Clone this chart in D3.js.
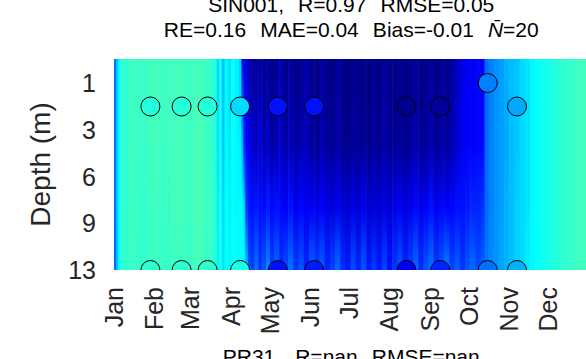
<!DOCTYPE html>
<html>
<head>
<meta charset="utf-8">
<script src="https://cdn.jsdelivr.net/npm/d3@7"></script>
<style>
  html, body { margin: 0; padding: 0; background: #fff; }
  svg { display: block; font-family: "Liberation Sans", Arial, sans-serif; }
</style>
</head>
<body>
<svg id="chart" width="586" height="359"></svg>
<script>
// ---------------- DATA ----------------
const titleLine1 = "SIN001,  R=0.97  RMSE=0.05";
const titleLine2a = "RE=0.16  MAE=0.04  Bias=-0.01  ";
const titleLine2b = "=20";
const nextTitle = "PR31,  R=nan  RMSE=nan";
const yLabel = "Depth (m)";

const monthLabels = ["Jan","Feb","Mar","Apr","May","Jun","Jul","Aug","Sep","Oct","Nov","Dec"];
const monthDays   = [1, 32, 60, 91, 121, 152, 182, 213, 244, 274, 305, 335];
const depthTicks  = [1, 3, 6, 9, 13];

// model field: columns starting at these days, values at 4 depth nodes
const fieldDepths = [0, 4, 8, 13];
const colDays = [1,2.5,4,5.5,12,20,27,35,45,55,62,70,75,78,80,82,84,86,89,91,94,97,99,100.5,102,104,106,109,112,115,118,121,124,128,131,135,139,143,147,151,155,159,163,167,171,175,179,183,187,191,195,199,203,207,211,215,219,223,227,231,235,239,243,247,251,255,259,263,267,271,275,279,283,286,289,293,297,301,305,309,313,317,321,325,329,334,339,345,351,358];
const val0  = [.24,.31,.37,.42,.435,.43,.44,.435,.44,.435,.44,.43,.42,.40,.34,.39,.31,.37,.34,.38,.36,.33,.13,.10,.08,.05,.03,.02,.04,.01,.03,.0,.02,.05,.01,.03,.0,.02,.04,.01,.0,.03,.01,.0,.03,.01,.0,.02,.0,.01,.0,.02,.0,.03,.01,.0,.02,.0,.01,.03,.0,.01,.03,.0,.02,.01,.03,.06,.10,.12,.11,.13,.12,.23,.25,.27,.28,.30,.31,.32,.34,.35,.37,.38,.39,.40,.41,.42,.43,.44];
const val4  = [.24,.31,.37,.42,.435,.43,.44,.435,.44,.435,.445,.435,.425,.40,.35,.39,.32,.37,.35,.38,.37,.36,.30,.16,.13,.11,.08,.06,.09,.05,.07,.04,.05,.08,.04,.06,.03,.05,.06,.03,.02,.05,.03,.02,.04,.02,.01,.03,.02,.03,.01,.03,.02,.04,.02,.02,.03,.01,.03,.05,.02,.03,.05,.02,.04,.03,.05,.08,.11,.12,.12,.13,.13,.23,.25,.27,.28,.29,.31,.32,.34,.35,.37,.38,.39,.40,.41,.42,.43,.44];
const val8  = [.24,.31,.37,.42,.435,.425,.435,.43,.44,.435,.445,.435,.43,.41,.36,.40,.34,.38,.36,.38,.37,.37,.37,.33,.18,.15,.14,.15,.14,.13,.15,.13,.14,.13,.12,.14,.11,.13,.11,.12,.10,.12,.10,.09,.11,.09,.08,.10,.08,.11,.08,.09,.08,.10,.08,.10,.12,.09,.11,.13,.10,.12,.14,.11,.13,.12,.13,.14,.14,.15,.16,.16,.17,.23,.25,.27,.28,.30,.31,.33,.34,.35,.37,.38,.39,.40,.41,.42,.43,.44];
const val13 = [.23,.30,.37,.42,.43,.425,.435,.43,.435,.43,.44,.43,.425,.41,.37,.40,.35,.38,.37,.39,.38,.38,.38,.37,.32,.21,.19,.24,.18,.21,.26,.19,.23,.17,.20,.24,.18,.21,.16,.22,.19,.22,.16,.19,.23,.17,.15,.20,.16,.21,.15,.18,.15,.19,.14,.18,.21,.16,.19,.23,.17,.21,.24,.18,.21,.25,.19,.22,.18,.21,.23,.20,.22,.24,.26,.27,.29,.30,.31,.33,.34,.36,.37,.38,.39,.40,.41,.42,.43,.44];

// observations (circles)
const obsDays   = [29,53,73,98,127,155,226,252,311,288.5, 29,53,73,98,127,155,226,252,288.5,311];
const obsDepths = [2,2,2,2,2,2,2,2,2,1, 13,13,13,13,13,13,13,13,13,13];
const obsValues = [.41,.41,.41,.34,.14,.14,.015,.03,.29,.25, .42,.42,.42,.40,.14,.15,.11,.16,.235,.30];

// ---------------- DRAWING ----------------
const svg = d3.select("#chart");
const pL = 114, pT = 59, pB = 270, pR = 588.5;

const x = d3.scaleLinear().domain([1, 366]).range([pL, pR]);
const y = d3.scaleLinear().domain([0, 1, 3, 6, 9, 13]).range([pT, 83, 130, 177, 223, pB]);

function jet(t) {
  const c = v => Math.max(0, Math.min(1, v));
  const r = c(1.5 - Math.abs(4 * t - 3));
  const g = c(1.5 - Math.abs(4 * t - 2));
  const b = c(1.5 - Math.abs(4 * t - 1));
  return d3.rgb(255 * r, 255 * g, 255 * b).formatHex();
}
const color = d3.scaleSequential(jet).domain([0, 1]);

const defs = svg.append("defs");
defs.append("clipPath").attr("id", "plotClip")
  .append("rect").attr("x", pL).attr("y", pT)
  .attr("width", pR - pL).attr("height", pB - pT);

const cols = colDays.map((d, i) => ({
  d0: d,
  d1: i < colDays.length - 1 ? colDays[i + 1] : 366,
  v: [val0[i], val4[i], val8[i], val13[i]]
}));

cols.forEach((c, i) => {
  const g = defs.append("linearGradient").attr("id", "g" + i)
    .attr("x1", 0).attr("y1", 0).attr("x2", 0).attr("y2", 1);
  fieldDepths.forEach((dep, k) => {
    g.append("stop")
      .attr("offset", (y(dep) - pT) / (pB - pT))
      .attr("stop-color", color(c.v[k]));
  });
});

const plot = svg.append("g").attr("clip-path", "url(#plotClip)");
plot.selectAll("rect.cell").data(cols).join("rect")
  .attr("class", "cell")
  .attr("x", c => x(c.d0))
  .attr("width", c => x(c.d1) - x(c.d0) + 0.6)
  .attr("y", pT).attr("height", pB - pT)
  .attr("fill", (c, i) => `url(#g${i})`);

const obs = obsDays.map((d, i) => ({ day: d, depth: obsDepths[i], v: obsValues[i] }));
plot.selectAll("circle.obs").data(obs).join("circle")
  .attr("class", "obs")
  .attr("cx", o => x(o.day))
  .attr("cy", o => y(o.depth))
  .attr("r", 9.5)
  .attr("fill", o => color(o.v))
  .attr("stroke", "#000")
  .attr("stroke-width", 1);

// Y ticks
svg.append("g").selectAll("text").data(depthTicks).join("text")
  .attr("x", 96).attr("y", d => y(d)).attr("dy", "0.35em")
  .attr("text-anchor", "end")
  .attr("font-size", 25).attr("fill", "#262626")
  .text(d => d);

// X ticks (rotated)
svg.append("g").selectAll("text").data(monthDays).join("text")
  .attr("transform", d => `translate(${x(d)},287) rotate(-90)`)
  .attr("text-anchor", "end").attr("dy", "0.35em")
  .attr("font-size", 25).attr("fill", "#262626")
  .text((d, i) => monthLabels[i]);

// Y label
svg.append("text")
  .attr("transform", `translate(40,${(pT + pB) / 2}) rotate(-90)`)
  .attr("text-anchor", "middle").attr("dy", "0.35em")
  .attr("font-size", 28).attr("fill", "#262626")
  .text(yLabel);

// Titles
const cx = (pL + pR) / 2;
svg.append("text").attr("x", cx).attr("y", 12)
  .attr("text-anchor", "middle").attr("font-size", 21)
  .attr("fill", "#000").style("white-space", "pre").attr("word-spacing", 1.2)
  .text(titleLine1);
const t2 = svg.append("text").attr("x", cx).attr("y", 37)
  .attr("text-anchor", "middle").attr("font-size", 21)
  .attr("fill", "#000").style("white-space", "pre").attr("word-spacing", 1.2);
t2.append("tspan").text(titleLine2a);
t2.append("tspan").attr("font-style", "italic").text("N\u0304");
t2.append("tspan").text(titleLine2b);

svg.append("text").attr("x", cx).attr("y", 364)
  .attr("text-anchor", "middle").attr("font-size", 21)
  .attr("fill", "#000").style("white-space", "pre").attr("word-spacing", 1.2)
  .text(nextTitle);
</script>
</body>
</html>
